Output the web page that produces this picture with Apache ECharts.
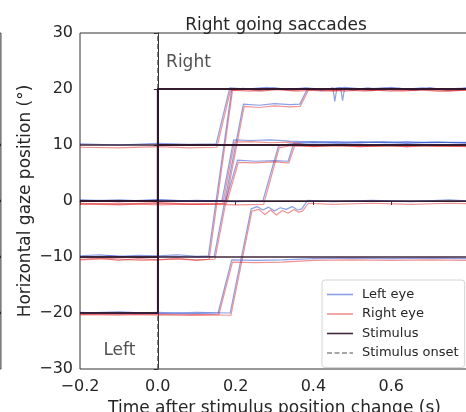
<!DOCTYPE html>
<html>
<head>
<meta charset="utf-8">
<script src="https://cdn.jsdelivr.net/npm/echarts@6/dist/echarts.min.js"></script>
<style>
  html, body { margin: 0; padding: 0; background: #fff; }
  #chart { width: 466px; height: 412px; }
</style>
</head>
<body>
<div id="chart"></div>
<script>
// Stimulus positions (deg) before and after the step at t = 0
const trialFrom = [-10, -10, 10, 0, 0, 0, -20, -20];
const trialTo   = [ 20,  20, 20, 10, 10, 10, -10, 0];

// Left eye traces, one per trial: [time (s), position (deg)]
const leftEye = [
  [[-0.2,-9.8],[-0.15,-9.6],[-0.1,-9.9],[-0.05,-9.7],[0,-9.8],[0.05,-9.6],[0.1,-9.9],[0.13,-9.8],[0.19,19.9],[0.22,20.1],[0.26,19.8],[0.3,20.2],[0.34,19.9],[0.38,20.1],[0.42,19.7],[0.45,20.2],[0.455,17.8],[0.46,20.0],[0.5,19.8],[0.54,20.2],[0.58,19.8],[0.62,20.1],[0.66,19.7],[0.7,20.2],[0.74,19.9],[0.8,20.1]],
  [[-0.2,-10.0],[-0.12,-9.8],[-0.04,-10.1],[0.04,-9.9],[0.1,-10.0],[0.145,-9.9],[0.22,17.3],[0.26,17.1],[0.3,17.4],[0.34,17.2],[0.365,17.3],[0.385,20.1],[0.42,19.9],[0.47,20.2],[0.475,17.9],[0.48,20.1],[0.55,19.8],[0.6,20.3],[0.65,19.9],[0.7,20.1],[0.75,19.8],[0.8,20.2]],
  [[-0.2,10.2],[-0.1,10.0],[0,10.3],[0.08,10.1],[0.15,10.2],[0.185,20.2],[0.23,20.0],[0.28,20.3],[0.33,19.9],[0.38,20.2],[0.43,19.9],[0.48,20.3],[0.53,20.0],[0.58,20.2],[0.63,19.9],[0.68,20.2],[0.73,20.0],[0.8,20.2]],
  [[-0.2,0.1],[-0.1,-0.1],[0,0.2],[0.08,0.0],[0.165,0.1],[0.195,10.9],[0.24,10.8],[0.29,10.9],[0.34,10.7],[0.4,10.5],[0.46,10.6],[0.52,10.4],[0.58,10.6],[0.64,10.4],[0.7,10.5],[0.8,10.4]],
  [[-0.2,0.2],[-0.1,0.0],[0,0.2],[0.1,0.0],[0.175,0.1],[0.205,7.3],[0.25,7.1],[0.3,7.2],[0.335,7.1],[0.35,10.4],[0.4,10.6],[0.46,10.4],[0.52,10.6],[0.58,10.4],[0.64,10.6],[0.7,10.4],[0.8,10.5]],
  [[-0.2,0.0],[-0.1,0.2],[0,-0.1],[0.1,0.1],[0.2,-0.1],[0.27,0.0],[0.31,9.8],[0.34,10.2],[0.4,10.4],[0.48,10.3],[0.56,10.5],[0.64,10.3],[0.72,10.5],[0.8,10.3]],
  [[-0.2,-19.9],[-0.1,-20.1],[0,-19.9],[0.08,-20.1],[0.155,-20.0],[0.19,-10.5],[0.25,-10.6],[0.32,-10.5],[0.4,-10.3],[0.5,-10.2],[0.6,-10.3],[0.7,-10.2],[0.8,-10.3]],
  [[-0.2,-20.0],[-0.1,-19.8],[0,-20.1],[0.1,-19.9],[0.186,-20.0],[0.24,-1.4],[0.255,-1.0],[0.27,-1.6],[0.285,-1.1],[0.3,-1.8],[0.315,-1.2],[0.33,-1.5],[0.345,-1.0],[0.36,-1.6],[0.37,-1.4],[0.385,0.1],[0.45,-0.1],[0.55,0.1],[0.65,-0.1],[0.75,0.2],[0.8,0.0]]
];

// Right eye traces, one per trial
const rightEye = [
  [[-0.2,-10.4],[-0.15,-10.2],[-0.1,-10.6],[-0.05,-10.3],[0,-10.5],[0.05,-10.2],[0.1,-10.6],[0.132,-10.4],[0.192,19.7],[0.22,19.9],[0.27,19.6],[0.31,20.0],[0.35,19.7],[0.4,20.0],[0.45,19.6],[0.5,20.0],[0.55,19.7],[0.6,20.1],[0.65,19.8],[0.7,20.0],[0.75,19.7],[0.8,19.9]],
  [[-0.2,-10.5],[-0.12,-10.3],[-0.04,-10.6],[0.04,-10.4],[0.1,-10.5],[0.147,-10.4],[0.222,16.9],[0.26,16.7],[0.3,17.0],[0.34,16.8],[0.366,16.9],[0.387,19.8],[0.43,19.6],[0.48,19.9],[0.53,19.6],[0.58,19.9],[0.63,19.6],[0.68,19.9],[0.74,19.6],[0.8,19.8]],
  [[-0.2,9.6],[-0.1,9.5],[0,9.7],[0.08,9.5],[0.152,9.6],[0.187,19.8],[0.24,19.6],[0.3,19.9],[0.36,19.6],[0.42,19.9],[0.48,19.6],[0.54,19.9],[0.6,19.6],[0.66,19.9],[0.72,19.6],[0.8,19.8]],
  [[-0.2,-0.5],[-0.1,-0.7],[0,-0.4],[0.08,-0.6],[0.167,-0.5],[0.197,10.5],[0.24,10.6],[0.29,10.4],[0.34,10.5],[0.4,9.8],[0.46,9.9],[0.52,9.7],[0.58,9.9],[0.64,9.7],[0.7,9.9],[0.8,9.8]],
  [[-0.2,-0.4],[-0.1,-0.6],[0,-0.3],[0.1,-0.6],[0.177,-0.4],[0.207,6.9],[0.25,6.8],[0.3,7.0],[0.337,6.8],[0.352,9.9],[0.4,9.7],[0.46,9.9],[0.52,9.7],[0.58,9.9],[0.64,9.7],[0.7,9.9],[0.8,9.7]],
  [[-0.2,-0.6],[-0.1,-0.4],[0,-0.7],[0.1,-0.5],[0.2,-0.7],[0.272,-0.6],[0.312,9.5],[0.34,9.9],[0.4,9.8],[0.48,10.0],[0.56,9.8],[0.64,10.0],[0.72,9.8],[0.8,9.9]],
  [[-0.2,-20.3],[-0.1,-20.4],[0,-20.2],[0.08,-20.4],[0.157,-20.3],[0.192,-10.9],[0.25,-11.0],[0.32,-10.9],[0.4,-10.6],[0.5,-10.5],[0.6,-10.6],[0.7,-10.5],[0.8,-10.6]],
  [[-0.2,-20.3],[-0.1,-20.2],[0,-20.4],[0.1,-20.3],[0.188,-20.4],[0.242,-1.8],[0.26,-1.5],[0.275,-2.4],[0.29,-1.6],[0.305,-2.5],[0.32,-1.7],[0.335,-2.2],[0.35,-1.5],[0.362,-2.0],[0.372,-1.8],[0.387,-0.4],[0.45,-0.6],[0.55,-0.4],[0.65,-0.6],[0.75,-0.4],[0.8,-0.5]]
];

// Axis ranges and ticks
const timeRange = [-0.2, 0.8];
const timeStep = 0.2;
const posRange = [-30, 30];
const posStep = 10;
const onsetTime = 0;

// Final levels of the neighbouring (left going) panel, seen at its right edge
const neighbourLevels = [10, 0, -10, -20];
const neighbourTail = [0, 1];

// Direction annotations
const annotations = [
  { text: 'Right', at: [0.02, 24.8] },
  { text: 'Left', at: [-0.141, -26.7] }
];

const FONT = 'DejaVu Sans';
const INK = '#262626';
const LEFT_EYE = 'rgba(45,80,210,0.55)';
const RIGHT_EYE = 'rgba(225,40,40,0.5)';
const STIM = 'rgba(48,22,44,0.92)';

const minus = s => s.replace('-', '\u2212');
const fmtTime = v => minus((Math.abs(v) < 1e-9 ? 0 : v).toFixed(1));
const fmtPos = v => minus(String(Math.round(v)));

const series = [];

leftEye.forEach((tr) => series.push({
  name: 'Left eye', type: 'line', xAxisIndex: 0, yAxisIndex: 0,
  data: tr, showSymbol: false, symbol: 'none',
  lineStyle: { color: LEFT_EYE, width: 1.2 }, itemStyle: { color: LEFT_EYE },
  z: 2
}));
rightEye.forEach((tr) => series.push({
  name: 'Right eye', type: 'line', xAxisIndex: 0, yAxisIndex: 0,
  data: tr, showSymbol: false, symbol: 'none',
  lineStyle: { color: RIGHT_EYE, width: 1.2 }, itemStyle: { color: RIGHT_EYE },
  z: 3
}));
trialFrom.forEach((from, i) => series.push({
  name: 'Stimulus', type: 'line', xAxisIndex: 0, yAxisIndex: 0,
  data: [[timeRange[0], from], [onsetTime, from], [onsetTime, trialTo[i]], [timeRange[1], trialTo[i]]],
  showSymbol: false, symbol: 'none',
  lineStyle: { color: STIM, width: 1.7 }, itemStyle: { color: STIM },
  z: 4
}));
series.push({
  name: 'Stimulus onset', type: 'line', xAxisIndex: 0, yAxisIndex: 0,
  data: [[onsetTime, posRange[0]], [onsetTime, posRange[1]]],
  showSymbol: false, symbol: 'none',
  lineStyle: { color: '#555', width: 1.1, type: [5, 3] }, itemStyle: { color: '#8a8a8a' },
  z: 1
});
annotations.forEach(a => series.push({
  name: a.text, type: 'scatter', xAxisIndex: 0, yAxisIndex: 0,
  data: [a.at], symbolSize: 1, itemStyle: { color: 'rgba(0,0,0,0)' },
  label: { show: true, position: 'right', distance: 0, formatter: a.text,
           fontFamily: FONT, fontSize: 17, color: INK },
  silent: true, z: 5
}));
neighbourLevels.forEach(lv => series.push({
  name: 'neighbour', type: 'line', xAxisIndex: 1, yAxisIndex: 1,
  data: neighbourTail.map(t => [t, lv]), showSymbol: false, symbol: 'none',
  lineStyle: { color: STIM, width: 2.5 }, z: 2
}));

const solidIcon = 'path://M0,0H26V1.6H0Z';
const dashIcon = 'path://M0,0H5V1.6H0Z M7.5,0H12.5V1.6H7.5Z M15,0H20V1.6H15Z M22.5,0H26V1.6H22.5Z';

const chart = echarts.init(document.getElementById('chart'), null, { renderer: 'canvas' });
chart.setOption({
  animation: false,
  backgroundColor: '#fff',
  title: {
    text: 'Right going saccades',
    left: 271, top: 12, textAlign: 'center',
    textStyle: { fontFamily: FONT, fontSize: 17, fontWeight: 'normal', color: INK }
  },
  legend: {
    data: [
      { name: 'Left eye', icon: solidIcon },
      { name: 'Right eye', icon: solidIcon },
      { name: 'Stimulus', icon: solidIcon },
      { name: 'Stimulus onset', icon: dashIcon }
    ],
    orient: 'vertical', left: 322, top: 280,
    padding: [8, 6, 8, 5], itemGap: 6.5, itemWidth: 26, itemHeight: 12,
    borderColor: '#d4d4d4', borderWidth: 1, borderRadius: 3,
    backgroundColor: 'rgba(255,255,255,0.85)',
    textStyle: { fontFamily: FONT, fontSize: 13, color: INK, padding: [0, 0, 0, 4] }
  },
  grid: [
    { left: 80, right: -3, top: 33, bottom: 43, outerBoundsMode: 'none', containLabel: false,
      show: true, borderColor: '#333', borderWidth: 1 },
    { left: 0, width: 1, top: 33, bottom: 43, outerBoundsMode: 'none', containLabel: false,
      show: true, borderColor: '#555', borderWidth: 1 }
  ],
  xAxis: [
    {
      gridIndex: 0, type: 'value', min: timeRange[0], max: timeRange[1], interval: timeStep,
      name: 'Time after stimulus position change (s)', nameLocation: 'middle', nameGap: 26,
      nameTextStyle: { fontFamily: FONT, fontSize: 17, color: INK },
      axisLine: { show: true, lineStyle: { color: '#333', width: 1 } },
      axisTick: { show: true, length: 4, lineStyle: { color: '#333' } },
      axisLabel: { fontFamily: FONT, fontSize: 16, color: INK, margin: 10, formatter: fmtTime, showMaxLabel: false },
      splitLine: { show: false }
    },
    { gridIndex: 1, type: 'value', min: 0, max: 1, show: false }
  ],
  yAxis: [
    {
      gridIndex: 0, type: 'value', min: posRange[0], max: posRange[1], interval: posStep,
      name: 'Horizontal gaze position (°)', nameLocation: 'middle', nameGap: 46,
      nameMoveOverlap: false,
      nameTextStyle: { fontFamily: FONT, fontSize: 17, color: INK },
      axisLine: { show: true, lineStyle: { color: '#333', width: 1 } },
      axisTick: { show: true, length: 4, lineStyle: { color: '#333' } },
      axisLabel: { fontFamily: FONT, fontSize: 16, color: INK, margin: 7, formatter: fmtPos },
      splitLine: { show: false }
    },
    { gridIndex: 1, type: 'value', min: posRange[0], max: posRange[1], show: false }
  ],
  series: series
});
</script>
</body>
</html>
